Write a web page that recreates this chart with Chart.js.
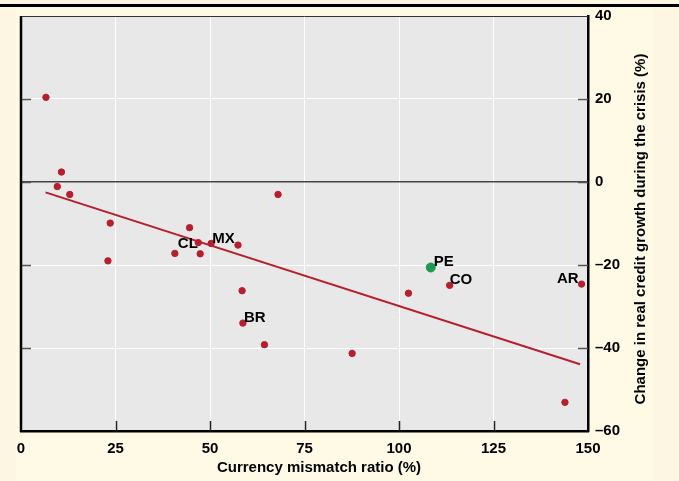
<!DOCTYPE html>
<html>
<head>
<meta charset="utf-8">
<script src="https://cdn.jsdelivr.net/npm/chart.js@4.4.1/dist/chart.umd.min.js"></script>
<style>
  html, body { margin: 0; padding: 0; background: #fdf6e2; }
  canvas { display: block; }
</style>
</head>
<body>
<canvas id="c" width="679" height="481"></canvas>
<script>
// ---- data ----
const mismatchRatio = [6.6, 10.7, 9.6, 12.9, 23.6, 23.0, 40.7, 44.6, 46.9, 47.4, 50.3, 57.4, 58.5, 58.7, 64.4, 68.0, 87.6, 102.5, 113.4, 143.9, 148.3];
const creditGrowth  = [20.4, 2.4, -1.1, -3.0, -9.9, -19.0, -17.2, -11.0, -14.6, -17.3, -14.8, -15.2, -26.2, -34.0, -39.2, -3.0, -41.3, -26.8, -24.9, -53.1, -24.6];
const pointNames    = ['', '', '', '', '', '', 'CL', '', '', '', 'MX', '', '', 'BR', '', '', '', '', 'CO', '', 'AR'];
const peruX = [108.4];
const peruY = [-20.6];
const peruName = ['PE'];
const fitX = [6.5, 147.9];
const fitY = [-2.5, -43.9];
const xTicks = [0, 25, 50, 75, 100, 125, 150];
const yTicks = [-60, -40, -20, 0, 20, 40];
const xTitle = 'Currency mismatch ratio (%)';
const yTitle = 'Change in real credit growth during the crisis (%)';

// ---- styles ----
const RED = '#b51f2e';
const GREEN = '#1a9a50';
const FONT = '"Liberation Sans", Arial, sans-serif';
const labelOffsets = { CL: [3, -10, 'left'], MX: [1, -5, 'left'], BR: [1, -5, 'left'], CO: [0, -5, 'left'], AR: [-3, -5, 'right'], PE: [3, -6, 'left'] };

const toXY = (xs, ys) => xs.map((x, i) => ({ x: x, y: ys[i] }));

const decor = {
  id: 'decor',
  beforeDraw(chart) {
    const { ctx, chartArea: a } = chart;
    ctx.save();
    ctx.fillStyle = '#fdf6e2';
    ctx.fillRect(0, 0, chart.width, chart.height);
    ctx.fillStyle = '#fffae6';
    ctx.fillRect(16, 8, 637, chart.height - 8);
    ctx.fillStyle = '#e8e8e8';
    ctx.fillRect(a.left, a.top, a.right - a.left, a.bottom - a.top);
    ctx.restore();
  },
  afterDraw(chart) {
    const { ctx, chartArea: a, scales } = chart;
    const xs = scales.x, ys = scales.y;
    ctx.save();
    // top rule
    ctx.fillStyle = '#000';
    ctx.fillRect(0, 4, chart.width, 3);
    // inner tick marks
    ctx.strokeStyle = '#555';
    ctx.lineWidth = 1.5;
    ctx.beginPath();
    yTicks.forEach(v => {
      if (v === 40 || v === -60) return;
      const y = Math.round(ys.getPixelForValue(v)) + 0.5;
      ctx.moveTo(a.left, y); ctx.lineTo(a.left + 10, y);
      ctx.moveTo(a.right - 10, y); ctx.lineTo(a.right, y);
    });
    ctx.stroke();
    ctx.strokeStyle = '#222';
    ctx.beginPath();
    xTicks.forEach(v => {
      if (v === 0 || v === 150) return;
      const x = Math.round(xs.getPixelForValue(v)) + 0.5;
      ctx.moveTo(x, a.bottom); ctx.lineTo(x, a.bottom - 10);
    });
    ctx.stroke();
    // frame: top thin, left thick
    ctx.strokeStyle = '#333';
    ctx.lineWidth = 1;
    ctx.beginPath();
    ctx.moveTo(a.left, a.top + 0.5); ctx.lineTo(a.right, a.top + 0.5);
    ctx.stroke();
    ctx.strokeStyle = '#000';
    ctx.lineWidth = 2.5;
    ctx.beginPath();
    ctx.moveTo(a.left, a.top); ctx.lineTo(a.left, a.bottom + 1);
    ctx.stroke();
    // point labels
    ctx.fillStyle = '#000';
    ctx.font = 'bold 15px ' + FONT;
    ctx.textBaseline = 'middle';
    const drawLabel = (name, x, y) => {
      if (!name) return;
      const o = labelOffsets[name] || [2, -6, 'left'];
      ctx.textAlign = o[2];
      ctx.fillText(name, xs.getPixelForValue(x) + o[0], ys.getPixelForValue(y) + o[1]);
    };
    pointNames.forEach((n, i) => drawLabel(n, mismatchRatio[i], creditGrowth[i]));
    peruName.forEach((n, i) => drawLabel(n, peruX[i], peruY[i]));
    // axis titles
    ctx.font = 'bold 15px ' + FONT;
    ctx.textAlign = 'center';
    ctx.textBaseline = 'middle';
    ctx.fillText(xTitle, 319, 468);
    ctx.translate(641, 229);
    ctx.rotate(-Math.PI / 2);
    ctx.fillText(yTitle, 0, 0);
    ctx.restore();
  }
};

new Chart(document.getElementById('c'), {
  type: 'scatter',
  data: {
    datasets: [
      { data: toXY(peruX, peruY), backgroundColor: GREEN, borderColor: GREEN, pointRadius: 4.5, pointHoverRadius: 4.5 },
      { data: toXY(mismatchRatio, creditGrowth), backgroundColor: RED, borderColor: RED, pointRadius: 3.2, pointHoverRadius: 3.2 },
      { type: 'line', data: toXY(fitX, fitY), borderColor: RED, borderWidth: 2, pointRadius: 0, fill: false, showLine: true }
    ]
  },
  options: {
    responsive: false,
    animation: false,
    devicePixelRatio: 1,
    layout: { padding: { left: 21, top: 16, right: 0, bottom: 0 } },
    plugins: { legend: { display: false }, tooltip: { enabled: false } },
    scales: {
      x: {
        type: 'linear', position: 'bottom', min: 0, max: 150,
        afterBuildTicks: s => { s.ticks = xTicks.map(v => ({ value: v })); },
        afterFit: s => { s.height = 50; },
        grid: { color: '#ffffff', lineWidth: 1, drawTicks: false },
        border: { display: true, color: '#000', width: 2.5 },
        ticks: { padding: 9, color: '#000', font: { family: FONT, size: 15, weight: 'bold' } }
      },
      y: {
        type: 'linear', position: 'right', min: -60, max: 40,
        afterBuildTicks: s => { s.ticks = yTicks.map(v => ({ value: v })); },
        afterFit: s => { s.width = 91; },
        grid: { color: c => (c.tick && c.tick.value === 0) ? '#444' : '#ffffff', lineWidth: c => (c.tick && c.tick.value === 0) ? 1.5 : 1, drawTicks: false },
        border: { display: true, color: '#000', width: 2.5 },
        ticks: {
          padding: 7, color: '#000', font: { family: FONT, size: 15, weight: 'bold' },
          callback: v => v < 0 ? '\u2013' + Math.abs(v) : String(v)
        }
      }
    }
  },
  plugins: [decor]
});
</script>
</body>
</html>
